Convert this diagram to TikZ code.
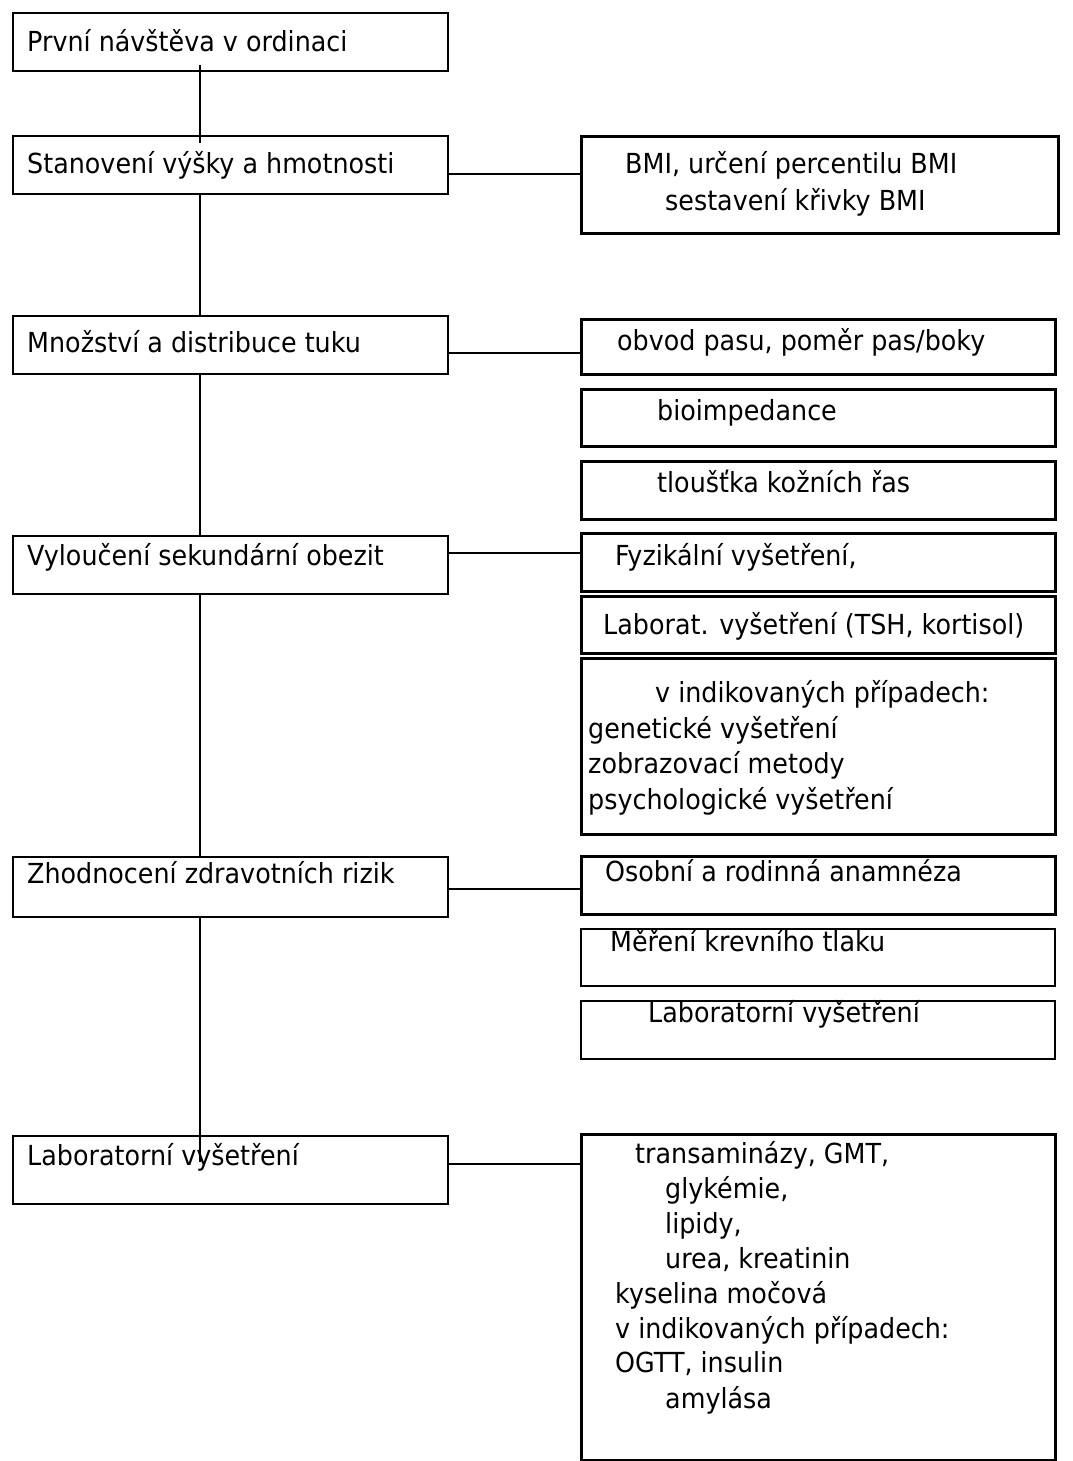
\documentclass[tikz,border=0pt]{standalone}
\usepackage{fontspec}
\setmainfont{DejaVu Sans}[FakeStretch=0.92]
\begin{document}
\begin{tikzpicture}[x=1pt,y=-1pt,
  lbox/.style={draw, line width=1.7pt, fill=white, inner sep=0pt},
  rthick/.style={draw, line width=3.2pt, fill=white, inner sep=0pt},
  rthin/.style={draw, line width=1.6pt, fill=white, inner sep=0pt},
  txt/.style={anchor=base west, inner sep=0pt, font=\fontsize{27.6}{35}\selectfont},
  conn/.style={line width=1.8pt},
  spine/.style={line width=1.4pt}]
\newcommand\bx[6]{\node[#2, anchor=north west, minimum width={#5-#3}, minimum height={#6-#4}] (#1) at (#3,#4) {};}
\useasboundingbox[fill=white] (0,0) rectangle (1072,1461);
% spine
\coordinate (s1) at (200,65);
\coordinate (s2) at (200,1162);
\draw[spine] (s1) -- (s2);
% left boxes
\bx{b1}{lbox}{12}{12}{447}{70}
\bx{b2}{lbox}{12}{135}{447}{193}
\bx{b3}{lbox}{12}{315}{447}{373}
\bx{b4}{lbox}{12}{535}{447}{593}
\bx{b5}{lbox}{12}{856}{447}{916}
\bx{b6}{lbox}{12}{1135}{447}{1203}
% right boxes
\bx{r1}{rthick}{580}{135}{1057}{232}
\bx{r2}{rthick}{580}{318}{1054}{373}
\bx{r3}{rthick}{580}{388}{1054}{445}
\bx{r4}{rthick}{580}{460}{1054}{518}
\bx{r5}{rthick}{580}{532}{1054}{590}
\bx{r6}{rthick}{580}{595}{1054}{652}
\bx{r7}{rthick}{580}{657}{1054}{833}
\bx{r8}{rthick}{580}{855}{1054}{913}
\bx{r9}{rthin}{580}{928}{1054}{985}
\bx{r10}{rthin}{580}{1000}{1054}{1058}
\bx{r11}{rthick}{580}{1133}{1054}{1459}
% spine stubs over boxes
\draw[spine] (s1) -- (b1.south -| s1);
\draw[spine] (b2.north -| s1) -- ++(0,8);
\draw[spine] (b6.north -| s1) -- (s2);
% connectors
\draw[conn] ([yshift=-9pt]b2.east) coordinate (c2) -- (c2 -| r1.west);
\draw[conn] ([yshift=-8pt]b3.east) coordinate (c3) -- (c3 -| r2.west);
\draw[conn] ([yshift=12pt]b4.east) coordinate (c4) -- (c4 -| r5.west);
\draw[conn] ([yshift=-2pt]b5.east) coordinate (c5) -- (c5 -| r8.west);
\draw[conn] ([yshift=6pt]b6.east) coordinate (c6) -- (c6 -| r11.west);
% left texts
\node[txt] (t1) at (27,52) {První návštěva v ordinaci};
\node[txt] (t2) at (27,173) {Stanovení výšky a hmotnosti};
\node[txt] (t3) at (27,352) {Množství a distribuce tuku};
\node[txt] (t4) at (27,565) {Vyloučení sekundární obezit};
\node[txt] (t5) at (27,883) {Zhodnocení zdravotních rizik};
\node[txt] (t6) at (27,1165) {Laboratorní vyšetření};
% right texts
\node[txt] (u1) at (625,173) {BMI, určení percentilu BMI};
\node[txt] (u2) at (665,210) {sestavení křivky BMI};
\node[txt] (u3) at (617,350) {obvod pasu, poměr pas/boky};
\node[txt] (u4) at (657,420) {bioimpedance};
\node[txt] (u5) at (657,492) {tloušťka kožních řas};
\node[txt] (u6) at (615,565) {Fyzikální vyšetření,};
\node[txt] (u7) at (603,634) {Laborat. vyšetření (TSH, kortisol)};
\node[txt] (u8) at (655,702) {v indikovaných případech:};
\node[txt] (u9) at (588,738) {genetické vyšetření};
\node[txt] (u10) at (588,773) {zobrazovací metody};
\node[txt] (u11) at (588,809) {psychologické vyšetření};
\node[txt] (u12) at (605,881) {Osobní a rodinná anamnéza};
\node[txt] (u13) at (610,951) {Měření krevního tlaku};
\node[txt] (u14) at (648,1022) {Laboratorní vyšetření};
\node[txt] (v1) at (635,1163) {transaminázy, GMT,};
\node[txt] (v2) at (665,1198) {glykémie,};
\node[txt] (v3) at (665,1233) {lipidy,};
\node[txt] (v4) at (665,1268) {urea, kreatinin};
\node[txt] (v5) at (615,1303) {kyselina močová};
\node[txt] (v6) at (615,1338) {v indikovaných případech:};
\node[txt] (v7) at (615,1372) {OGTT, insulin};
\node[txt] (v8) at (665,1408) {amylása};
\end{tikzpicture}
\end{document}
